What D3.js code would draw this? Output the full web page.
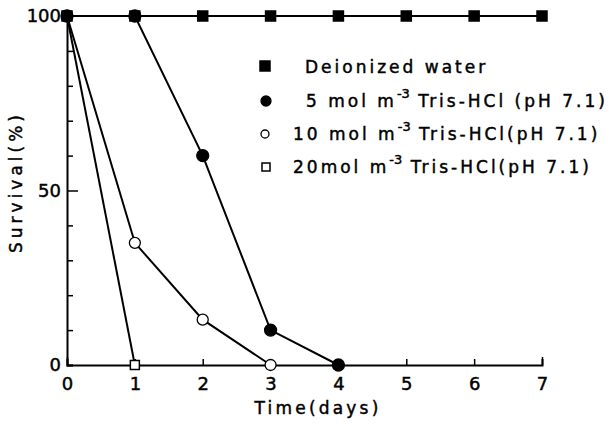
<!DOCTYPE html>
<html lang="en">
<head>
<meta charset="UTF-8" />
<title>Survival</title>
<script src="https://cdn.jsdelivr.net/npm/d3@7"></script>
<style>
  body { margin: 0; background: #fff; }
  text { font-family: "DejaVu Sans", sans-serif; fill: #000; stroke: #000; stroke-width: 0.45px; }
</style>
</head>
<body>
<svg id="chart" width="609" height="426"></svg>
<script>
  // data
  const days = [0, 1, 2, 3, 4, 5, 6, 7];
  const water = [100, 100, 100, 100, 100, 100, 100, 100];
  const tris5 = [100, 100, 60, 10, 0];
  const tris10 = [100, 35, 13, 0];
  const tris20 = [100, 0];
  const legendLabels = [
    ["Deionized water", ""],
    ["5 mol m", " Tris-HCl (pH 7.1)"],
    ["10 mol m", " Tris-HCl(pH 7.1)"],
    ["20mol m", " Tris-HCl(pH 7.1)"]
  ];

  const svg = d3.select("#chart");
  const x = d3.scaleLinear().domain([0, 7]).range([67, 542]);
  const y = d3.scaleLinear().domain([0, 100]).range([365, 16]);

  // axes
  const xAxis = svg.append("g").attr("transform", "translate(0," + y(0) + ")")
    .call(d3.axisBottom(x).tickValues(days).tickSize(-6).tickPadding(12).tickFormat(d3.format("d")));
  const yAxis = svg.append("g").attr("transform", "translate(" + x(0) + ",0)")
    .call(d3.axisLeft(y).tickValues(d3.range(0, 101, 10)).tickSize(-6).tickPadding(6)
      .tickFormat(d => (d % 50 === 0 ? d : "")));
  [xAxis, yAxis].forEach(a => {
    a.select(".domain").attr("stroke-width", 2);
    a.selectAll(".tick line").attr("stroke-width", 1.5);
    a.selectAll("text").style("font-size", "18px");
  });
  yAxis.selectAll(".tick").filter(d => d === 50).select("line").attr("x2", 11);
  xAxis.selectAll(".tick").filter(d => d === 0 || d === 7).select("line").attr("y2", -8);

  svg.append("text").attr("x", 318).attr("y", 414)
    .attr("text-anchor", "middle").style("font-size", "17px").style("letter-spacing", "3.2px")
    .text("Time(days)");
  svg.append("text").attr("transform", "translate(22,182) rotate(-90)")
    .attr("text-anchor", "middle").style("font-size", "17px").style("letter-spacing", "4px")
    .text("Survival(%)");

  const line = d3.line().x((d, i) => x(days[i])).y(d => y(d));
  [water, tris5, tris10, tris20].forEach(s => {
    svg.append("path").attr("d", line(s)).attr("fill", "none")
      .attr("stroke", "#000").attr("stroke-width", 2);
  });

  // markers
  function square(g, cx, cy, size, filled) {
    g.append("rect").attr("x", cx - size / 2).attr("y", cy - size / 2)
      .attr("width", size).attr("height", size)
      .attr("fill", filled ? "#000" : "#fff").attr("stroke", "#000").attr("stroke-width", 1.5);
  }
  function circle(g, cx, cy, r, filled) {
    g.append("circle").attr("cx", cx).attr("cy", cy).attr("r", r)
      .attr("fill", filled ? "#000" : "#fff").attr("stroke", "#000").attr("stroke-width", 1.3);
  }
  tris10.forEach((d, i) => circle(svg, x(days[i]), y(d), 5.5, false));
  tris20.forEach((d, i) => square(svg, x(days[i]), y(d), 9, false));
  tris5.forEach((d, i) => circle(svg, x(days[i]), y(d), 6, true));
  water.forEach((d, i) => square(svg, x(days[i]), y(d), 10, true));

  // legend
  const rows = [67, 101, 134, 167];
  const leg = svg.append("g");
  square(leg, 265, rows[0] - 1, 10, true);
  circle(leg, 266, rows[1], 5, true);
  circle(leg, 265, rows[2], 4, false);
  square(leg, 266, rows[3], 8, false);
  const textX = [305, 306, 293, 293];
  legendLabels.forEach((lab, i) => {
    const t = leg.append("text").attr("x", textX[i]).attr("y", rows[i] + 6)
      .style("font-size", "17px").style("letter-spacing", "3px");
    t.append("tspan").text(lab[0]);
    if (lab[1]) {
      t.append("tspan").attr("dy", -9).style("font-size", "13px").style("letter-spacing", "0px").text("-3");
      t.append("tspan").attr("dy", 9).text(lab[1]);
    }
  });
</script>
</body>
</html>
